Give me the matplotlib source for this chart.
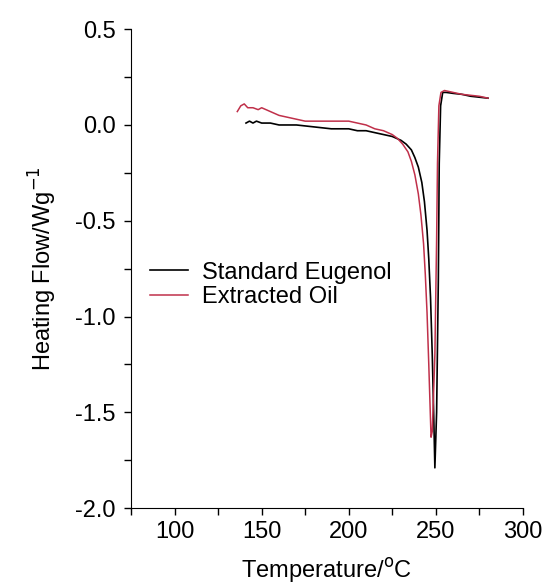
import matplotlib

matplotlib.use("Agg")
import matplotlib.pyplot as plt
from matplotlib.ticker import FormatStrFormatter, MultipleLocator

plt.rcParams["font.family"] = ["Liberation Sans", "DejaVu Sans"]

# Standard Eugenol DSC trace
T_STD = [141, 143, 145, 147, 150, 155, 160, 170, 180, 190, 200, 205, 210, 215,
         220, 225, 230, 233, 236, 238, 240, 242, 243.5, 245, 246, 247, 248,
         248.8, 249.5, 250.5, 251.5, 252, 252.8, 254, 256, 260, 265, 270, 275, 280]
HF_STD = [0.01, 0.02, 0.01, 0.02, 0.01, 0.01, 0.0, 0.0, -0.01, -0.02, -0.02,
          -0.03, -0.03, -0.04, -0.05, -0.06, -0.08, -0.10, -0.13, -0.17, -0.22,
          -0.30, -0.40, -0.55, -0.70, -0.90, -1.20, -1.50, -1.79, -1.50, -0.80,
          -0.20, 0.10, 0.17, 0.17, 0.165, 0.16, 0.15, 0.145, 0.14]

# Extracted oil DSC trace
T_OIL = [136, 138, 140, 142, 145, 148, 150, 155, 160, 165, 170, 175, 180, 190,
         200, 205, 210, 215, 220, 225, 228, 231, 234, 236, 238, 240, 241.5, 243,
         244, 245, 246, 247.3, 248, 249.5, 250.5, 251, 251.8, 253, 255, 260, 265,
         270, 275, 280]
HF_OIL = [0.07, 0.10, 0.11, 0.09, 0.09, 0.08, 0.09, 0.07, 0.05, 0.04, 0.03,
          0.02, 0.02, 0.02, 0.02, 0.01, 0.0, -0.02, -0.03, -0.05, -0.07, -0.10,
          -0.14, -0.19, -0.26, -0.36, -0.47, -0.62, -0.78, -0.98, -1.25, -1.63,
          -1.60, -1.20, -0.60, -0.20, 0.10, 0.17, 0.18, 0.17, 0.16, 0.155, 0.15,
          0.14]

FS = 17

fig = plt.figure(figsize=(5.44, 5.84), dpi=100)
ax = fig.add_axes([0.241, 0.130, 0.720, 0.820])

ax.plot(T_STD, HF_STD, color="black", lw=1.2, label="Standard Eugenol")
ax.plot(T_OIL, HF_OIL, color="#c0304a", lw=1.1, label="Extracted Oil")

ax.set_xlim(75, 300)
ax.set_ylim(-2.0, 0.5)
ax.xaxis.set_major_locator(MultipleLocator(50))
ax.xaxis.set_minor_locator(MultipleLocator(25))
ax.yaxis.set_major_locator(MultipleLocator(0.5))
ax.yaxis.set_minor_locator(MultipleLocator(0.25))
ax.yaxis.set_major_formatter(FormatStrFormatter("%.1f"))

for s in ("top", "right"):
    ax.spines[s].set_visible(False)
ax.tick_params(which="major", direction="out", length=5, width=1, labelsize=FS)
ax.tick_params(which="minor", direction="out", length=5, width=1)
ax.tick_params(axis="x", which="major", pad=4)
ax.tick_params(axis="y", which="major", pad=6)

ax.set_xlabel("Temperature/$^{\\rm o}$C", fontsize=FS, labelpad=10)
ax.set_ylabel("Heating Flow/Wg$^{-1}$", fontsize=FS, labelpad=12)

ax.legend(loc="center left", bbox_to_anchor=(0.048, 0.466), frameon=False,
          fontsize=FS, handlelength=1.6, handletextpad=0.6, labelspacing=0.1,
          borderpad=0, borderaxespad=0)

fig.savefig("out.png", dpi=100)
plt.close(fig)
